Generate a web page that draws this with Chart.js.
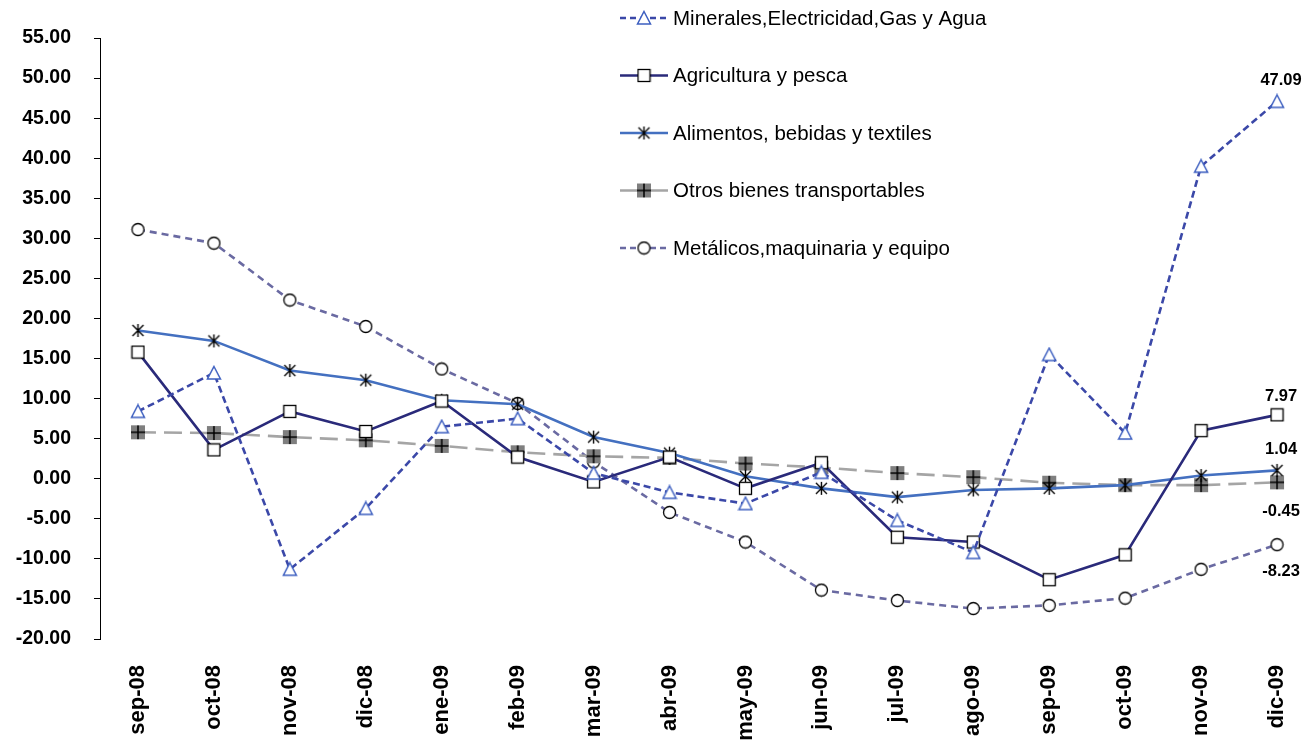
<!DOCTYPE html>
<html>
<head>
<meta charset="utf-8">
<script src="https://cdn.jsdelivr.net/npm/chart.js@4.4.1/dist/chart.umd.min.js"></script>
<style>
  html, body { margin: 0; padding: 0; background: #fff; }
  #wrap { width: 1315px; height: 751px; }
</style>
</head>
<body>
<div id="wrap"><canvas id="grafico" width="1315" height="751"></canvas></div>
<script>
// datos
const categorias = ['sep-08', 'oct-08', 'nov-08', 'dic-08', 'ene-09', 'feb-09', 'mar-09', 'abr-09',
  'may-09', 'jun-09', 'jul-09', 'ago-09', 'sep-09', 'oct-09', 'nov-09', 'dic-09'];
const minerales = [8.4, 13.2, -11.3, -3.7, 6.5, 7.5, 0.7, -1.7, -3.1, 0.8, -5.2, -9.2, 15.5, 5.7, 39.0, 47.09];
const agricultura = [15.8, 3.6, 8.4, 5.9, 9.7, 2.7, -0.4, 2.7, -1.2, 2.0, -7.3, -7.9, -12.6, -9.5, 6.0, 7.97];
const alimentos = [18.5, 17.2, 13.5, 12.3, 9.8, 9.3, 5.2, 3.2, 0.3, -1.2, -2.3, -1.4, -1.2, -0.8, 0.4, 1.04];
const otros = [5.8, 5.7, 5.2, 4.8, 4.1, 3.3, 2.8, 2.6, 1.9, 1.4, 0.7, 0.2, -0.5, -0.8, -0.8, -0.45];
const metalicos = [31.1, 29.4, 22.3, 19.0, 13.7, 9.4, 2.1, -4.2, -7.9, -13.9, -15.2, -16.2, -15.8, -14.9, -11.3, -8.23];
const nombres = ['Minerales,Electricidad,Gas y Agua', 'Agricultura y pesca', 'Alimentos, bebidas y textiles',
  'Otros bienes transportables', 'Metálicos,maquinaria y equipo'];
const ejeY = { min: -20, max: 55, paso: 5 };

// marcadores dibujados a mano
function marcador(tam, dibujar) {
  const c = document.createElement('canvas');
  c.width = tam; c.height = tam;
  const g = c.getContext('2d');
  dibujar(g, tam);
  return c;
}
const mTriangulo = marcador(16, (g, s) => {
  g.beginPath();
  g.moveTo(s / 2, 1.5); g.lineTo(s - 1.5, s - 2); g.lineTo(1.5, s - 2); g.closePath();
  g.fillStyle = '#fff'; g.fill();
  g.strokeStyle = '#3d5fc0'; g.lineWidth = 1.5; g.stroke();
});
const mCuadro = marcador(15, (g, s) => {
  g.fillStyle = '#fff'; g.fillRect(1, 1, s - 2, s - 2);
  g.strokeStyle = '#000'; g.lineWidth = 1.3; g.strokeRect(1.5, 1.5, s - 3, s - 3);
});
const mAsterisco = marcador(15, (g, s) => {
  g.strokeStyle = '#000'; g.lineWidth = 1.4;
  g.beginPath();
  g.moveTo(2, 2); g.lineTo(s - 2, s - 2);
  g.moveTo(s - 2, 2); g.lineTo(2, s - 2);
  g.moveTo(s / 2, 1); g.lineTo(s / 2, s - 1);
  g.stroke();
});
const mOtros = marcador(16, (g, s) => {
  g.fillStyle = '#7f7f7f'; g.fillRect(1, 1, s - 2, s - 2);
  g.strokeStyle = '#000'; g.lineWidth = 1.5;
  g.beginPath();
  g.moveTo(s / 2, 1); g.lineTo(s / 2, s - 1);
  g.moveTo(1, s / 2); g.lineTo(s - 1, s / 2);
  g.stroke();
});
const mCirculo = marcador(15, (g, s) => {
  g.beginPath(); g.arc(s / 2, s / 2, s / 2 - 1.5, 0, Math.PI * 2);
  g.fillStyle = '#fff'; g.fill();
  g.strokeStyle = '#000'; g.lineWidth = 1.3; g.stroke();
});

function serie(label, data, color, dash, punto, dashLeyenda) {
  return {
    label, data,
    borderColor: color, borderWidth: 2.6, borderDash: dash,
    pointStyle: punto, pointRadius: 7, pointHoverRadius: 7,
    fill: false, tension: 0, dashLeyenda
  };
}

const datasets = [
  serie(nombres[0], minerales, '#3b48a8', [7, 4], mTriangulo, [6, 4]),
  serie(nombres[1], agricultura, '#2a2a7a', [], mCuadro, []),
  serie(nombres[2], alimentos, '#4470c0', [], mAsterisco, []),
  serie(nombres[3], otros, '#a5a5a5', [18, 8], mOtros, []),
  serie(nombres[4], metalicos, '#6a6aa2', [7, 5], mCirculo, [6, 4])
];

// etiquetas del ultimo punto (desplazamiento vertical en px)
const desplazEtiqueta = [-21, -18, -21, 29, 27];
const etiquetasFinales = {
  id: 'etiquetasFinales',
  afterDatasetsDraw(chart) {
    const ctx = chart.ctx;
    ctx.save();
    ctx.font = 'bold 16.5px "Liberation Sans", Arial, sans-serif';
    ctx.fillStyle = '#000';
    ctx.textAlign = 'center';
    ctx.textBaseline = 'middle';
    chart.data.datasets.forEach((ds, i) => {
      const meta = chart.getDatasetMeta(i);
      const p = meta.data[meta.data.length - 1];
      const v = ds.data[ds.data.length - 1];
      ctx.fillText(v.toFixed(2), p.x + 4, p.y + desplazEtiqueta[i]);
    });
    ctx.restore();
  }
};

// leyenda sobre el area del grafico
const leyenda = {
  id: 'leyenda',
  afterDraw(chart) {
    const ctx = chart.ctx;
    const x0 = 620, y0 = 18, dy = 57.5;
    ctx.save();
    chart.data.datasets.forEach((ds, i) => {
      const y = y0 + i * dy;
      ctx.strokeStyle = ds.borderColor;
      ctx.lineWidth = 2.6;
      ctx.setLineDash(ds.dashLeyenda);
      ctx.beginPath(); ctx.moveTo(x0, y); ctx.lineTo(x0 + 48, y); ctx.stroke();
      ctx.setLineDash([]);
      const m = ds.pointStyle;
      ctx.drawImage(m, x0 + 24 - m.width / 2, y - m.height / 2);
      ctx.font = '20.5px "Liberation Sans", Arial, sans-serif';
      ctx.fillStyle = '#000';
      ctx.textBaseline = 'middle';
      ctx.fillText(ds.label, x0 + 53, y + 1);
    });
    ctx.restore();
  }
};

new Chart(document.getElementById('grafico'), {
  type: 'line',
  data: { labels: categorias, datasets },
  options: {
    responsive: false,
    animation: false,
    layout: { autoPadding: false, padding: { top: 38, right: 0, bottom: 0, left: 0 } },
    plugins: { legend: { display: false }, tooltip: { enabled: false } },
    scales: {
      x: {
        offset: true,
        grid: { display: false, drawTicks: false },
        border: { display: false },
        ticks: {
          color: '#000', font: { family: '"Liberation Sans", Arial', size: 22, weight: 'bold' },
          minRotation: 90, maxRotation: 90, padding: 26, autoSkip: false
        },
        afterFit(s) { s.height = 112; s.paddingLeft = 0; s.paddingRight = 0; }
      },
      y: {
        min: ejeY.min, max: ejeY.max,
        grid: { drawOnChartArea: false, drawTicks: true, tickLength: 6, color: '#000' },
        border: { color: '#000', width: 1 },
        ticks: {
          stepSize: ejeY.paso, color: '#000', padding: 23,
          font: { family: '"Liberation Sans", Arial', size: 19.5, weight: 'bold' },
          callback: v => v.toFixed(2)
        },
        afterFit(s) { s.width = 100; }
      }
    }
  },
  plugins: [etiquetasFinales, leyenda]
});
</script>
</body>
</html>
